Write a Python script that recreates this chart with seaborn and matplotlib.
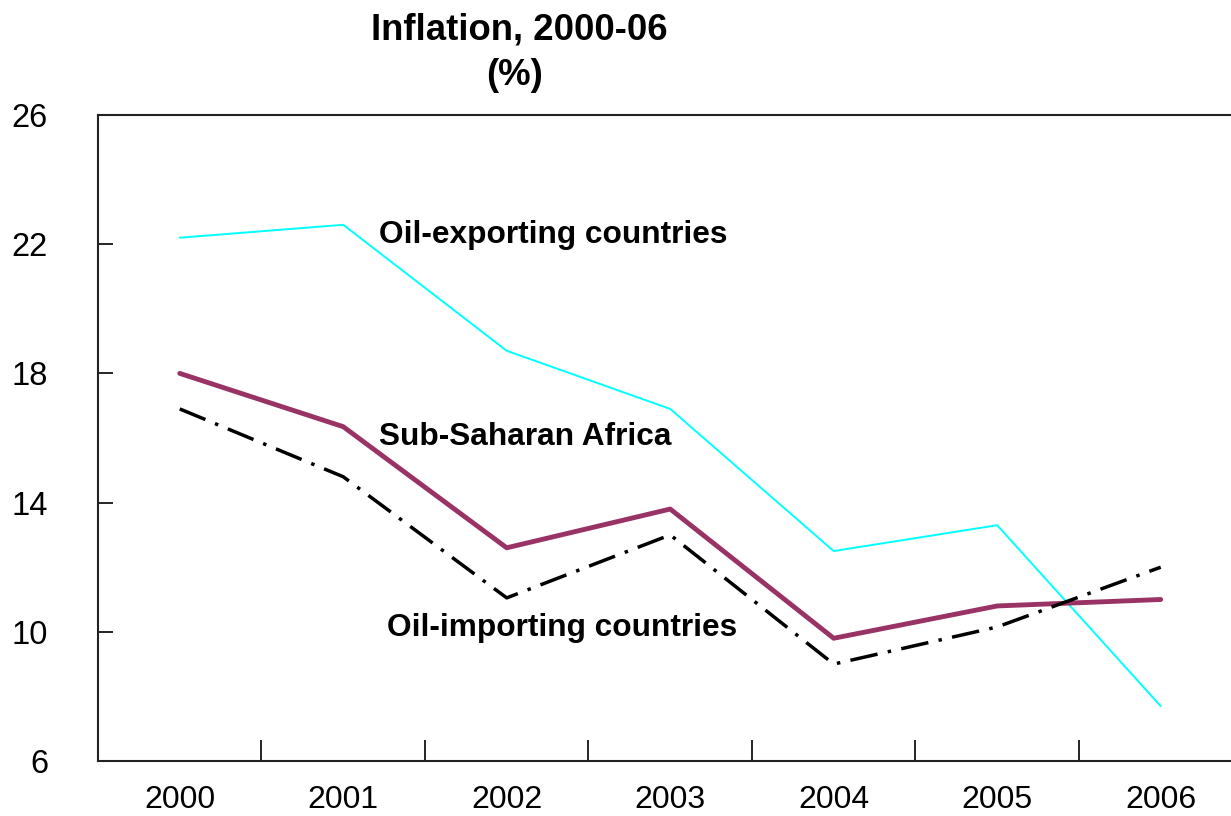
import numpy as np
import pandas as pd
import seaborn as sns
import matplotlib.pyplot as plt

sns.set_style("ticks")
plt.rcParams['font.family'] = ['Liberation Sans', 'DejaVu Sans']
plt.rcParams['text.color'] = 'black'
plt.rcParams['xtick.color'] = 'black'
plt.rcParams['ytick.color'] = 'black'

# data
years = ["2000", "2001", "2002", "2003", "2004", "2005", "2006"]
oil_exporting = [22.2, 22.6, 18.7, 16.9, 12.5, 13.3, 7.7]
sub_saharan = [18.0, 16.35, 12.6, 13.8, 9.8, 10.8, 11.0]
oil_importing = [16.9, 14.8, 11.05, 13.0, 9.0, 10.15, 12.0]
yticks = [6, 10, 14, 18, 22, 26]

x = np.arange(len(years))

fig = plt.figure(figsize=(12.31, 8.16), dpi=100)
ax = fig.add_axes([0.0796, 0.0674, 0.9204, 0.7917])

sns.lineplot(x=x, y=oil_exporting, ax=ax, color="#00FFFF", linewidth=1.4)
sns.lineplot(x=x, y=sub_saharan, ax=ax, color="#993366", linewidth=3.5)
sns.lineplot(x=x, y=oil_importing, ax=ax, color="black", linewidth=2.5)
ax.lines[-1].set_dashes([8, 3, 1, 3])

ax.set_xlim(-0.5, 6.43)
ax.set_ylim(6, 26)

# labels on the lines
lab = dict(fontsize=22.8, fontweight="bold", va="center", ha="left")
ax.text(1.22, 22.28, "Oil-exporting countries", **lab)
ax.text(1.22, 16.03, "Sub-Saharan Africa", **lab)
ax.text(1.265, 10.12, "Oil-importing countries", **lab)

# axes look
ax.set_yticks(yticks)
ax.set_yticklabels([str(v) for v in yticks], fontsize=23.5)
ax.tick_params(axis="y", direction="in", length=11, width=1.2, pad=36)

ax.set_xticks(x)
ax.set_xticklabels(years, fontsize=23)
ax.tick_params(axis="x", which="major", length=0, pad=17)
ax.set_xticks(x[:-1] + 0.5, minor=True)
ax.tick_params(axis="x", which="minor", direction="in", length=15, width=1.2)

for side in ["left", "bottom", "top"]:
    ax.spines[side].set_linewidth(1.5)
    ax.spines[side].set_color("#222222")
ax.spines["right"].set_visible(False)

fig.text(0.422, 0.963, "Inflation, 2000-06", fontsize=26.3, fontweight="bold",
         ha="center", va="center")
fig.text(0.418, 0.908, "(%)", fontsize=26.3, fontweight="bold",
         ha="center", va="center")

fig.savefig("out.png", dpi=100)
